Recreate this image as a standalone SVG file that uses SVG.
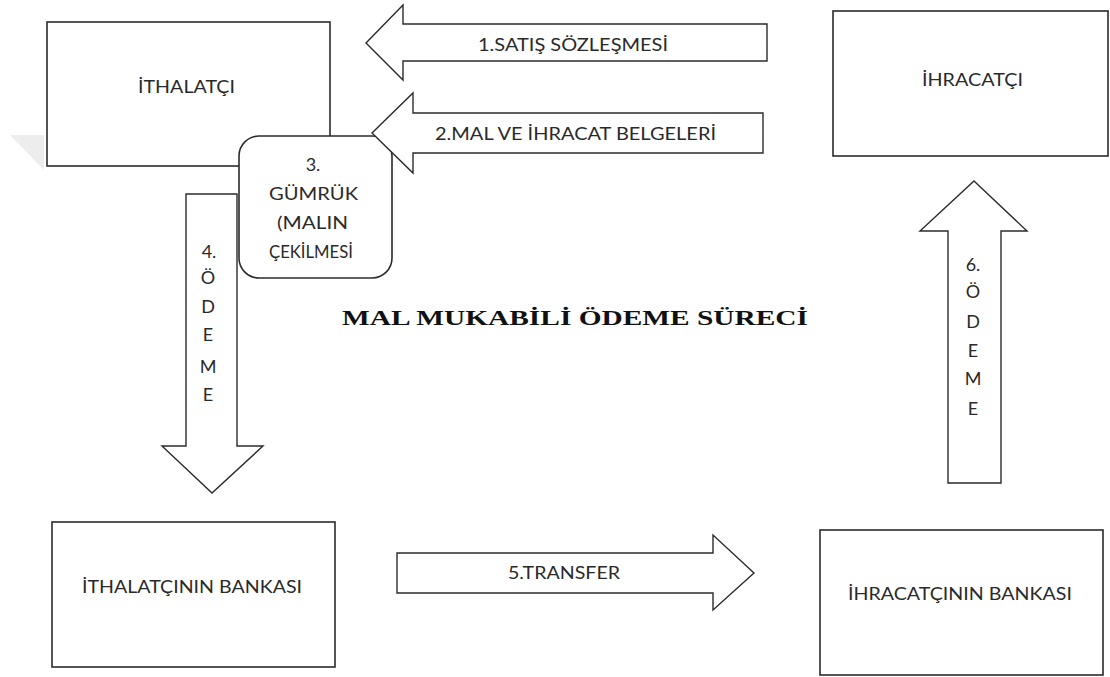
<svg xmlns="http://www.w3.org/2000/svg" width="1110" height="677" viewBox="0 0 1110 677">
<style>
.box{fill:#fff;stroke:#2b2b2b;stroke-width:1.6}
.arr{fill:#fff;stroke:#2b2b2b;stroke-width:1.4;stroke-linejoin:miter}
.lbl{font-family:"Lato","Open Sans","Noto Sans",sans-serif;font-size:18px;fill:#2a2a2a}
.mid{text-anchor:middle}
.title{font-family:"Liberation Serif","Times New Roman",serif;font-size:22px;font-weight:bold;fill:#111}
</style>
<rect width="1110" height="677" fill="#fff"/>
<polygon points="10,135 44,135 44,170" fill="#ededed"/>
<g id="nodes">
<g id="ithalatci">
<rect class="box" x="47" y="22" width="283" height="144"/>
<text class="lbl" x="138" y="93" textLength="97" lengthAdjust="spacingAndGlyphs">&#304;THALAT&#199;I</text>
</g>
<g id="ihracatci">
<rect class="box" x="833" y="11" width="275" height="145"/>
<text class="lbl" x="922" y="86" textLength="101" lengthAdjust="spacingAndGlyphs">&#304;HRACAT&#199;I</text>
</g>
<g id="gumruk">
<rect class="box" x="239" y="136" width="153" height="142" rx="20" ry="20"/>
<text class="lbl mid" x="313" y="171">3.</text>
<text class="lbl" x="269" y="200" textLength="89" lengthAdjust="spacingAndGlyphs">G&#220;MR&#220;K</text>
<text class="lbl" x="277" y="229" textLength="71" lengthAdjust="spacingAndGlyphs">(MALIN</text>
<text class="lbl" x="269" y="258" textLength="84" lengthAdjust="spacingAndGlyphs">&#199;EK&#304;LMES&#304;</text>
</g>
<g id="ithalatci-banka">
<rect class="box" x="52" y="522" width="283" height="145"/>
<text class="lbl" x="82" y="593" textLength="220" lengthAdjust="spacingAndGlyphs">&#304;THALAT&#199;ININ BANKASI</text>
</g>
<g id="ihracatci-banka">
<rect class="box" x="820" y="530" width="283" height="145"/>
<text class="lbl" x="848" y="600" textLength="224" lengthAdjust="spacingAndGlyphs">&#304;HRACAT&#199;ININ BANKASI</text>
</g>
</g>
<g id="connectors">
<g id="arrow1">
<polygon class="arr" points="366,43 403,5 403,24 767,24 767,61 403,61 403,80"/>
<text class="lbl" x="478" y="51" textLength="190" lengthAdjust="spacingAndGlyphs">1.SATI&#350; S&#214;ZLE&#350;MES&#304;</text>
</g>
<g id="arrow2">
<polygon class="arr" points="372,133 413,93 413,113 763,113 763,153 413,153 413,173"/>
<text class="lbl" x="435" y="140" textLength="281" lengthAdjust="spacingAndGlyphs">2.MAL VE &#304;HRACAT BELGELER&#304;</text>
</g>
<g id="arrow4">
<polygon class="arr" points="186,194 237,194 237,446 263,446 212,493 162,446 186,446"/>
<text class="lbl mid" x="209" y="258">4.</text>
<text class="lbl mid" x="208" y="284">&#214;</text>
<text class="lbl mid" x="208" y="313">D</text>
<text class="lbl mid" x="208" y="341">E</text>
<text class="lbl mid" x="208" y="373">M</text>
<text class="lbl mid" x="208" y="401">E</text>
</g>
<g id="arrow5">
<polygon class="arr" points="397,553 713,553 713,535 754,573 713,610 713,593 397,593"/>
<text class="lbl" x="508" y="579" textLength="112" lengthAdjust="spacingAndGlyphs">5.TRANSFER</text>
</g>
<g id="arrow6">
<polygon class="arr" points="974,181 1027,231 1001,231 1001,483 948,483 948,231 920,231"/>
<text class="lbl mid" x="973" y="271">6.</text>
<text class="lbl mid" x="973" y="298">&#214;</text>
<text class="lbl mid" x="973" y="328">D</text>
<text class="lbl mid" x="973" y="357">E</text>
<text class="lbl mid" x="973" y="385">M</text>
<text class="lbl mid" x="973" y="415">E</text>
</g>
</g>
<text id="title" class="title" x="342" y="325" textLength="466" lengthAdjust="spacingAndGlyphs">MAL MUKAB&#304;L&#304; &#214;DEME S&#220;REC&#304;</text>
</svg>
